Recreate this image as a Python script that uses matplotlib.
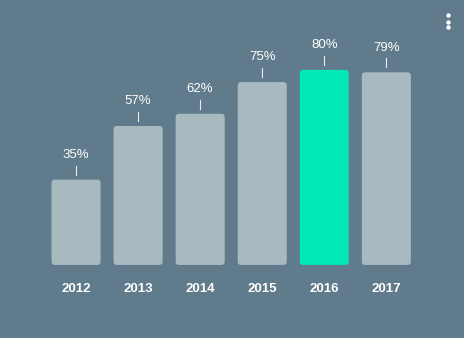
import matplotlib.pyplot as plt
from matplotlib.patches import FancyBboxPatch

years = ['2012', '2013', '2014', '2015', '2016', '2017']
values = [35, 57, 62, 75, 80, 79]
highlight = '2016'

bg = '#607b8b'
bar_grey = '#a9b9c0'
bar_green = '#00e8b6'

plt.rcParams['font.family'] = ['Liberation Sans', 'DejaVu Sans']

W, H = 464, 338
fig = plt.figure(figsize=(W / 100 + 0.004, H / 100 + 0.004), dpi=100, facecolor=bg)

# axes laid out in pixels: bar baseline at y=265, 62 px per bar slot, 2.435 px per percent
px_x = 62.0
px_y = 2.435
ax = fig.add_axes([0, (H - 265) / H, 1, 265 / H])
ax.set_facecolor(bg)
ax.set_xlim(-76 / px_x, (W - 76) / px_x)
ax.set_ylim(0, 265 / px_y)
ax.axis('off')

x = list(range(len(years)))
colors = [bar_green if y == highlight else bar_grey for y in years]
bars = ax.bar(x, values, width=49 / px_x, color=colors)

# swap the plain bars for rounded ones
for b in bars:
    b.set_visible(False)
    r = FancyBboxPatch((b.get_x(), b.get_y()), b.get_width(), b.get_height(),
                       boxstyle='round,pad=0,rounding_size=%f' % (3 / px_x),
                       mutation_aspect=px_x / px_y,
                       facecolor=b.get_facecolor(), edgecolor='none')
    ax.add_patch(r)

for xi, v, yr in zip(x, values, years):
    ax.annotate(f'{v}%', (xi, v), xytext=(0, 25), textcoords='offset pixels',
                ha='center', va='center', color='white', fontsize=9.5)
    ax.plot([xi, xi], [v + 5 / px_y, v + 14 / px_y], color='#e6ecef', lw=0.8)
    ax.annotate(yr, (xi, 0), xytext=(0, -24), textcoords='offset pixels',
                ha='center', va='center', color='white', fontsize=9.5,
                fontweight='bold', annotation_clip=False)

# menu dots, top right
dot_y = [15.7, 22.2, 27.7]
ax.plot([448 / W] * 3, [1 - d / H for d in dot_y], 'o', color='white', ms=3.2,
        mec='none', transform=fig.transFigure, clip_on=False)

fig.savefig('out.png', dpi=100, facecolor=bg)
